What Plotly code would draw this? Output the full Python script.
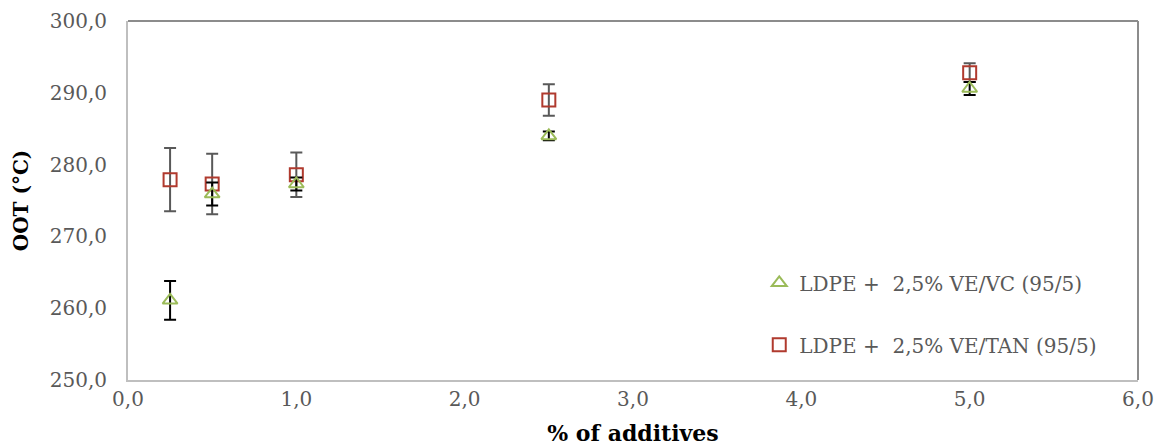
import plotly.graph_objects as go

x_vals = [0.25, 0.5, 1.0, 2.5, 5.0]
vc_vals = [261.1, 275.9, 277.3, 284.0, 290.6]
vc_err = [2.7, 1.6, 0.9, 0.6, 0.9]
tan_vals = [277.9, 277.3, 278.6, 289.0, 292.8]
tan_err = [4.4, 4.2, 3.1, 2.2, 1.3]

name_vc = "LDPE +  2,5% VE/VC (95/5)"
name_tan = "LDPE +  2,5% VE/TAN (95/5)"

FONT = "DejaVu Serif"

fig = go.Figure()
fig.add_trace(go.Scatter(
    x=x_vals, y=tan_vals, mode="markers", name=name_tan, legendgroup="tan", legendrank=2,
    marker=dict(symbol="square-open", size=13, color="#B03A2E", line=dict(width=2)),
    error_y=dict(type="data", array=tan_err, visible=True, color="#595959", thickness=2, width=6),
))
fig.add_trace(go.Scatter(
    x=x_vals, y=vc_vals, mode="markers", name=name_vc, legendgroup="vc", legendrank=1,
    marker=dict(symbol="triangle-up-open", size=13, color="#9BBB59", line=dict(width=2)),
    error_y=dict(type="data", array=vc_err, visible=True, color="#000000", thickness=2, width=6),
))

# darker top/right frame lines of the plot area
fig.add_shape(type="line", xref="paper", yref="paper", x0=0, x1=1, y0=1, y1=1,
              line=dict(color="#8C8C8C", width=2))
fig.add_shape(type="line", xref="paper", yref="paper", x0=1, x1=1, y0=0, y1=1,
              line=dict(color="#8C8C8C", width=2))

fig.update_layout(
    width=1157, height=447,
    margin=dict(l=128, r=19, t=21, b=67),
    paper_bgcolor="white", plot_bgcolor="white",
    separators=",.",
    font=dict(family=FONT, size=20, color="#595959"),
    showlegend=True,
    legend=dict(x=0.625, y=0.325, xanchor="left", yanchor="top",
                traceorder="grouped", tracegroupgap=33,
                font=dict(family=FONT, size=20, color="#595959"),
                bgcolor="rgba(0,0,0,0)", itemwidth=30),
    xaxis=dict(range=[0, 6], tickmode="linear", tick0=0, dtick=1, tickformat=".1f",
               showgrid=False, zeroline=False, showline=True, linecolor="#BFBFBF",
               linewidth=2, ticks="", ticklen=0, automargin=False,
               title=dict(text="<b>% of additives</b>", font=dict(family=FONT, size=22, color="black"), standoff=16)),
    yaxis=dict(range=[250, 300], tickmode="linear", tick0=250, dtick=10, tickformat=".1f",
               showgrid=False, zeroline=False, showline=True, linecolor="#BFBFBF",
               linewidth=2, ticks="", ticklen=0, automargin=False, ticklabelstandoff=15,
               title=dict(text="<b>OOT (°C)</b>", font=dict(family=FONT, size=20, color="black"), standoff=16)),
)

fig.write_html("out.html", config={"displayModeBar": False},
               post_script="document.body.style.margin='0';document.body.style.overflow='hidden';")
